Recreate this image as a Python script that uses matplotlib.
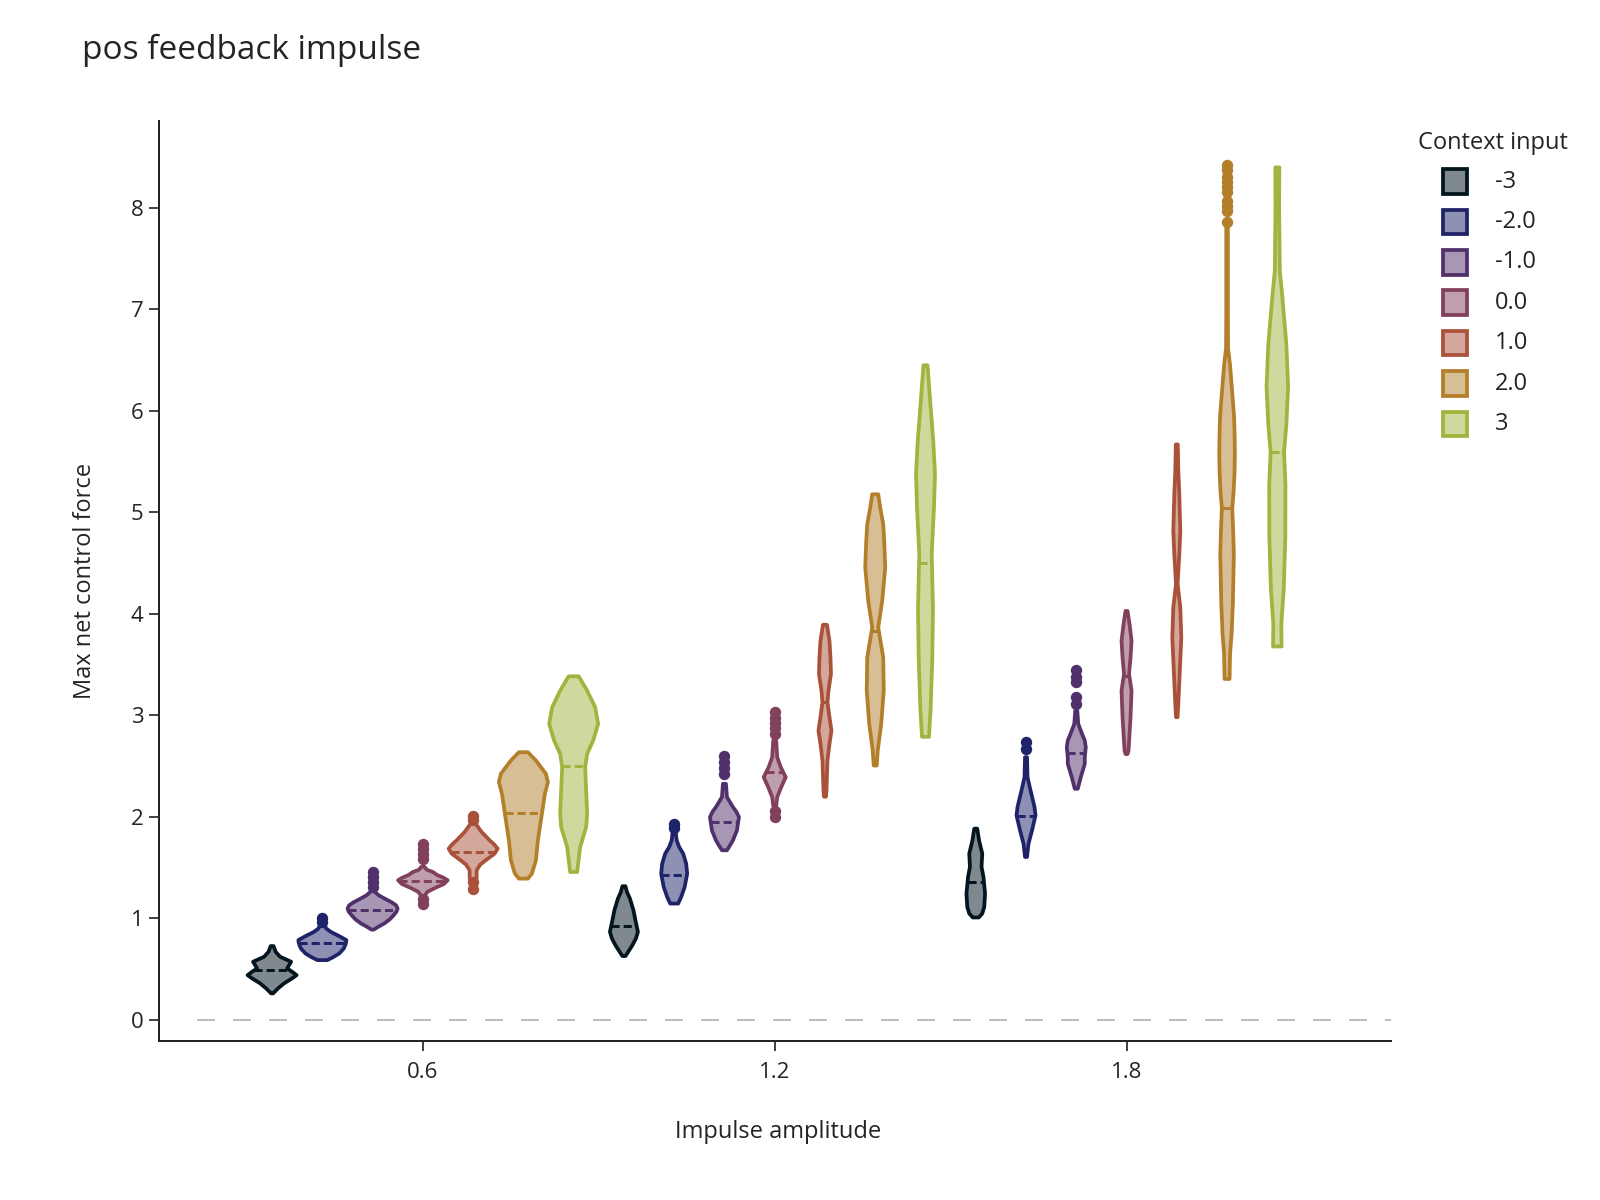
import matplotlib
matplotlib.use("Agg")
import matplotlib.pyplot as plt
import numpy as np
from matplotlib.colors import to_rgba
from matplotlib.patches import Polygon, Rectangle

plt.rcParams["font.family"] = ["Open Sans", "DejaVu Sans"]

AMPLITUDES = [0.6, 1.2, 1.8]
CONTEXTS = ["-3", "-2.0", "-1.0", "0.0", "1.0", "2.0", "3"]
COLORS = ["#03151f", "#1f2468", "#51316b", "#81415d", "#a95139", "#b37f2b", "#a3b33f"]

# violin outlines: y levels and relative density, one list per amplitude
neg3_y = [[0.262, 0.312, 0.361, 0.41, 0.442, 0.475, 0.508, 0.541, 0.574, 0.623, 0.672, 0.728],
          [0.63, 0.672, 0.737, 0.803, 0.868, 0.983, 1.082, 1.196, 1.262, 1.318],
          [1.01, 1.049, 1.114, 1.246, 1.409, 1.508, 1.639, 1.77, 1.885]]
neg3_d = [[1, 6, 12, 20, 24.5, 20, 15, 17, 19, 8, 3.5, 1.5],
          [1.5, 4.3, 8.5, 12, 14, 11.5, 9.5, 6, 3, 1.5],
          [3, 6.5, 8.5, 9.3, 7.7, 5.8, 6.5, 3.3, 1.5]]
neg3_mean = [0.49, 0.924, 1.357]
neg3_out = [[], [], []]

neg2_y = [[0.59, 0.62, 0.656, 0.705, 0.754, 0.787, 0.82, 0.868, 0.90, 0.95],
          [1.147, 1.212, 1.311, 1.442, 1.54, 1.639, 1.704, 1.77, 1.852],
          [1.606, 1.737, 1.868, 2.016, 2.098, 2.262, 2.392, 2.589]]
neg2_d = [[5, 11, 17, 21.5, 23.5, 24, 18, 8.5, 4, 1.5],
          [4, 7, 10.5, 13, 12, 9, 5, 2.5, 1.5],
          [1, 2.5, 6, 9.5, 8.5, 4.5, 1.5, 1]]
neg2_mean = [0.754, 1.426, 2.01]
neg2_out = [[1.0, 0.97], [1.93, 1.89], [2.737, 2.672]]

neg1_y = [[0.89, 0.92, 0.95, 0.99, 1.032, 1.07, 1.098, 1.13, 1.16, 1.196, 1.229, 1.26, 1.28],
          [1.672, 1.72, 1.77, 1.868, 1.934, 1.999, 2.05, 2.098, 2.196, 2.327],
          [2.278, 2.392, 2.524, 2.589, 2.688, 2.753, 2.851, 2.917, 3.048]]
neg1_d = [[1, 6, 11.5, 17, 21, 24, 25, 23.5, 19, 12, 6, 2.5, 1.5],
          [2.5, 5.5, 8.5, 12.5, 13.5, 14.5, 12, 8.5, 2.5, 1.5],
          [1.5, 4.5, 8.5, 8.5, 9.5, 8.5, 4.5, 2, 1]]
neg1_mean = [1.088, 1.95, 2.63]
neg1_out = [[1.458, 1.409, 1.36, 1.31],
            [2.596, 2.54, 2.485, 2.426],
            [3.448, 3.376, 3.327, 3.179, 3.114]]

zero_y = [[1.22, 1.262, 1.30, 1.34, 1.377, 1.40, 1.43, 1.458, 1.48, 1.51],
          [2.11, 2.196, 2.294, 2.392, 2.491, 2.589, 2.753],
          [2.62, 2.655, 2.983, 3.245, 3.409, 3.572, 3.736, 3.9, 4.03]]
zero_d = [[1.5, 4.5, 12, 21, 24.8, 21, 14, 10, 4, 1.5],
          [1.5, 2.5, 6.5, 11, 6, 2.5, 1.5],
          [1, 2, 4, 5, 2.5, 4, 5, 3, 1]]
zero_mean = [1.367, 2.442, 3.392]
zero_out = [[1.737, 1.688, 1.639, 1.59, 1.19, 1.14],
            [3.03, 2.98, 2.93, 2.88, 2.82, 2.058, 1.999],
            []]

pos1_y = [[1.36, 1.40, 1.475, 1.53, 1.573, 1.639, 1.688, 1.73, 1.77, 1.852, 1.934],
          [2.2, 2.262, 2.557, 2.72, 2.851, 2.983, 3.13, 3.245, 3.409, 3.572, 3.736, 3.894],
          [2.983, 3.114, 3.441, 3.769, 4.064, 4.294, 4.589, 4.818, 5.179, 5.408, 5.67]]
pos1_d = [[2.5, 3.5, 3.5, 7, 12.5, 21.5, 24.5, 21, 16.5, 8.5, 2.5],
          [1, 1.5, 2.5, 4.5, 6.5, 4.5, 2.5, 3.5, 6, 5.5, 4.5, 2],
          [0.8, 1.5, 3, 4.5, 3.5, 0.8, 2.5, 3.5, 2.5, 1.5, 1]]
pos1_mean = [1.655, 3.13, 4.294]
pos1_out = [[2.01, 1.97, 1.36, 1.295], [], []]

pos2_y = [[1.393, 1.442, 1.573, 1.77, 2.032, 2.229, 2.344, 2.426, 2.557, 2.638],
          [2.507, 2.655, 2.917, 3.245, 3.572, 3.867, 4.13, 4.458, 4.72, 4.884, 5.047, 5.179],
          [3.36, 3.61, 3.8, 4.10, 4.35, 4.59, 4.85, 5.04, 5.2, 5.4, 5.57, 5.75, 5.95, 6.2,
           6.45, 6.62, 7.0, 7.5, 7.85]]
pos2_d = [[4.5, 8.5, 12.5, 14.5, 18.5, 21.5, 24.5, 22.5, 12.5, 4.5],
          [1.5, 2.5, 6, 8.5, 8, 3, 7, 10, 9, 8, 5, 3],
          [2.5, 3, 4.5, 5.8, 6.3, 6.8, 6, 5.2, 6.5, 7.5, 7.8, 7.6, 7, 5, 3, 1, 0.8, 0.8, 0.8]]
pos2_mean = [2.039, 3.835, 5.04]
pos2_out = [[], [], [8.42, 8.37, 8.31, 8.26, 8.21, 8.16, 8.07, 8.02, 7.97, 7.86]]

pos3_y = [[1.458, 1.704, 1.901, 2.032, 2.262, 2.491, 2.622, 2.753, 2.917, 3.081, 3.245, 3.386],
          [2.79, 3.08, 3.57, 4.06, 4.59, 5.05, 5.38, 5.7, 6.03, 6.45],
          [3.68, 3.9, 4.24, 4.76, 5.28, 5.595, 5.86, 6.24, 6.66, 7.17, 7.38, 8.0, 8.40]]
pos3_d = [[3.5, 6.5, 12.5, 13.5, 12.5, 11.5, 13.5, 19.5, 24.5, 21.5, 13.5, 5],
          [3.5, 5.2, 6.8, 7.5, 6.2, 8.5, 9.5, 7.8, 5.2, 2],
          [4.3, 4, 6.4, 8, 8.1, 6.7, 9, 10.8, 9, 4.6, 2.5, 1.8, 2]]
pos3_mean = [2.507, 4.507, 5.595]
pos3_out = [[], [], []]

all_y = [neg3_y, neg2_y, neg1_y, zero_y, pos1_y, pos2_y, pos3_y]
all_d = [neg3_d, neg2_d, neg1_d, zero_d, pos1_d, pos2_d, pos3_d]
all_mean = [neg3_mean, neg2_mean, neg1_mean, zero_mean, pos1_mean, pos2_mean, pos3_mean]
all_out = [neg3_out, neg2_out, neg1_out, zero_out, pos1_out, pos2_out, pos3_out]

W, H = 1600, 1200
TEXT = "#242424"
GROUP_WIDTH = 0.6
DENS_SCALE = 1 / 586.4   # density unit -> x units
LW = 2.7                 # ~3.75 px outline
FS = 17

fig = plt.figure(figsize=(16, 12), dpi=100)
ax = fig.add_axes([159 / W, 1 - 1041 / H, (1391 - 159) / W, (1041 - 121) / H])
ax.set_xlim(0.150, 2.251)
ax.set_ylim(-0.207, 8.857)

ax.plot([0.215, 2.251], [0, 0], color="#bdbdbd", lw=1.44, ls=(0, (9, 9)), zorder=0)

n = len(CONTEXTS)
step = GROUP_WIDTH / n
for i, col in enumerate(COLORS):
    offset = (i - (n - 1) / 2) * step
    for j, amp in enumerate(AMPLITUDES):
        cx = amp + offset
        ys = np.array(all_y[i][j])
        hw = np.array(all_d[i][j]) * DENS_SCALE
        pts = np.concatenate([np.column_stack([cx + hw, ys]),
                              np.column_stack([cx - hw[::-1], ys[::-1]])])
        ax.add_patch(Polygon(pts, closed=True, facecolor=to_rgba(col, 0.5),
                             edgecolor=col, lw=LW, joinstyle="round", zorder=2 + i))
        m = all_mean[i][j]
        mw = np.interp(m, ys, hw)
        ax.plot([cx - mw, cx + mw], [m, m], color=col, lw=2.16, ls=(0, (2.7, 1.35)),
                solid_capstyle="butt", zorder=3 + i)
        if all_out[i][j]:
            ax.plot([cx] * len(all_out[i][j]), all_out[i][j], "o", color=col,
                    ms=8.2, mew=0, zorder=3 + i)

ax.spines["top"].set_visible(False)
ax.spines["right"].set_visible(False)
for s in ("left", "bottom"):
    ax.spines[s].set_color(TEXT)
    ax.spines[s].set_linewidth(1.44)

ax.set_xticks(AMPLITUDES)
ax.set_xticklabels([f"{a:.1f}" for a in AMPLITUDES])
ax.set_yticks(range(0, 9))
ax.tick_params(axis="both", direction="out", length=7.2, width=1.44, color="#444444",
               labelsize=16, labelcolor=TEXT)
ax.tick_params(axis="x", pad=8)
ax.tick_params(axis="y", pad=4)

fig.text(82 / W, 1 - 50 / H, "pos feedback impulse", fontsize=24, color=TEXT,
         ha="left", va="center")
fig.text(85 / W, 1 - 581 / H, "Max net control force", fontsize=FS, color=TEXT,
         rotation=90, ha="center", va="center")
fig.text(778 / W, 1 - 1132 / H, "Impulse amplitude", fontsize=FS, color=TEXT,
         ha="center", va="center")

# legend
fig.text(1418 / W, 1 - 143 / H, "Context input", fontsize=FS, color=TEXT,
         ha="left", va="center")
for i, (name, col) in enumerate(zip(CONTEXTS, COLORS)):
    cy = 181.5 + 40.4 * i
    fig.add_artist(Rectangle((1442.5 / W, 1 - (cy + 12.3) / H), 24.6 / W, 24.6 / H,
                             transform=fig.transFigure, facecolor=to_rgba(col, 0.5),
                             edgecolor=col, lw=LW))
    fig.text(1495 / W, 1 - cy / H, name, fontsize=FS, color=TEXT, ha="left", va="center")

fig.savefig("out.png", dpi=100)
